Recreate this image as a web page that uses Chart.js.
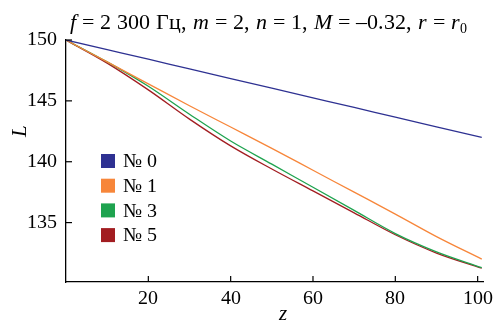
<!DOCTYPE html>
<html>
<head>
<meta charset="utf-8">
<script src="https://cdn.jsdelivr.net/npm/chart.js@4"></script>
<style>
  @font-face { font-family: "FigSerif"; font-style: normal; src: local("Liberation Serif"), local("LiberationSerif"), local("Times New Roman"); }
  @font-face { font-family: "FigSerif"; font-style: italic; src: local("Liberation Serif Italic"), local("LiberationSerif-Italic"), local("Times New Roman Italic"); }
</style>
</head>
<body style="margin:0">
<canvas id="lineChart" width="501" height="329"></canvas>
<script>
// z positions where the curves were read
const zValues = [0, 10, 20, 30, 40, 50, 60, 70, 80, 90, 101];

const seriesNames = ["№ 0", "№ 1", "№ 3", "№ 5"];
const seriesColors = ["#2e3192", "#f7863a", "#1ea34f", "#a21d21"];

const L0 = [150, 149.21, 148.42, 147.62, 146.83, 146.04, 145.25, 144.46, 143.66, 142.87, 142.0];
const L1 = [150, 148.2, 146.4, 144.6, 142.85, 141.1, 139.3, 137.5, 135.7, 133.85, 132.0];
const L3 = [150, 148.2, 146.2, 143.9, 141.7, 139.8, 137.9, 136.0, 134.1, 132.6, 131.3];
const L5 = [150, 148.1, 145.9, 143.5, 141.3, 139.4, 137.6, 135.8, 134.0, 132.5, 131.25];

const xTicks = [20, 40, 60, 80, 100];
const yTicks = [135, 140, 145, 150];

const allSeries = [L0, L1, L3, L5];

const fontFamily = "FigSerif, 'Liberation Serif', serif";

function toPoints(arr) {
  return arr.map((v, i) => ({ x: zValues[i], y: v }));
}

const datasets = allSeries.map((arr, i) => ({
  label: seriesNames[i],
  data: toPoints(arr),
  borderColor: seriesColors[i],
  backgroundColor: seriesColors[i],
  borderWidth: 1.3,
  pointRadius: 0,
  cubicInterpolationMode: "monotone",
  fill: false,
}));

// title, axis names, inner tick marks and legend
const decorations = {
  id: "decorations",
  afterDraw(chart) {
    const ctx = chart.ctx;
    const area = chart.chartArea;
    const xs = chart.scales.x;
    const ys = chart.scales.y;

    // title with italic symbols
    const parts = [
      ["f", true], [" = 2 300 Гц, ", false], ["m", true], [" = 2, ", false],
      ["n", true], [" = 1, ", false], ["M", true], [" = –0.32, ", false],
      ["r", true], [" = ", false], ["r", true],
    ];
    const size = 22;
    ctx.fillStyle = "#000";
    ctx.textBaseline = "alphabetic";
    ctx.textAlign = "left";
    let total = 0;
    parts.forEach(([t, it]) => {
      ctx.font = (it ? "italic " : "") + size + "px " + fontFamily;
      total += ctx.measureText(t).width;
    });
    ctx.font = "14px " + fontFamily;
    total += ctx.measureText("0").width;
    let x = 268 - total / 2;
    const base = 29;
    parts.forEach(([t, it]) => {
      ctx.font = (it ? "italic " : "") + size + "px " + fontFamily;
      ctx.fillText(t, x, base);
      x += ctx.measureText(t).width;
    });
    ctx.font = "14px " + fontFamily;
    ctx.fillText("0", x, base + 4);

    // axis names
    ctx.font = "italic 21px " + fontFamily;
    ctx.textAlign = "center";
    ctx.textBaseline = "middle";
    ctx.fillText("z", (area.left + area.right) / 2 + 8, 314);
    ctx.save();
    ctx.translate(20, 131);
    ctx.rotate(-Math.PI / 2);
    ctx.fillText("L", 0, 0);
    ctx.restore();

    // legend inside plot
    ctx.font = "20px " + fontFamily;
    ctx.textAlign = "left";
    chart.data.datasets.forEach((ds, i) => {
      const cy = area.top + 121 + i * 24.7;
      ctx.fillStyle = ds.borderColor;
      ctx.fillRect(area.left + 35, cy - 7, 14, 14);
      ctx.fillStyle = "#000";
      ctx.fillText(ds.label, area.left + 57, cy + 1);
    });

    // inner ticks
    ctx.strokeStyle = "#000";
    ctx.lineWidth = 1.2;
    xTicks.forEach((t) => {
      const px = xs.getPixelForValue(t);
      ctx.beginPath();
      ctx.moveTo(px, area.bottom);
      ctx.lineTo(px, area.bottom - 6);
      ctx.stroke();
    });
    yTicks.forEach((t) => {
      const py = ys.getPixelForValue(t);
      ctx.beginPath();
      ctx.moveTo(area.left, py);
      ctx.lineTo(area.left + 6, py);
      ctx.stroke();
    });
  },
};

const tickFont = { family: fontFamily, size: 20 };

const chart = new Chart(document.getElementById("lineChart"), {
  type: "line",
  data: { datasets: datasets },
  options: {
    responsive: false,
    animation: false,
    layout: { padding: { top: 40, right: 18, left: 0, bottom: 0 } },
    plugins: {
      legend: { display: false },
      title: { display: false },
      tooltip: { enabled: false },
    },
    scales: {
      x: {
        type: "linear",
        min: 0,
        max: 101.3,
        afterFit: (scale) => { scale.height = 47; },
        afterBuildTicks: (scale) => { scale.ticks = xTicks.map((v) => ({ value: v })); },
        grid: { drawOnChartArea: false, drawTicks: false },
        border: { display: true, color: "#000", width: 1.3 },
        ticks: { color: "#000", font: tickFont, padding: 5, maxRotation: 0 },
      },
      y: {
        type: "linear",
        min: 130.12,
        max: 150,
        afterFit: (scale) => { scale.width = 66; },
        afterBuildTicks: (scale) => { scale.ticks = yTicks.map((v) => ({ value: v })); },
        grid: { drawOnChartArea: false, drawTicks: false },
        border: { display: true, color: "#000", width: 1.3 },
        ticks: { color: "#000", font: tickFont, padding: 9 },
      },
    },
  },
  plugins: [decorations],
});

Promise.all([
  document.fonts.load("20px FigSerif"),
  document.fonts.load("italic 20px FigSerif"),
]).then(() => chart.update()).catch(() => {});
</script>
</body>
</html>
